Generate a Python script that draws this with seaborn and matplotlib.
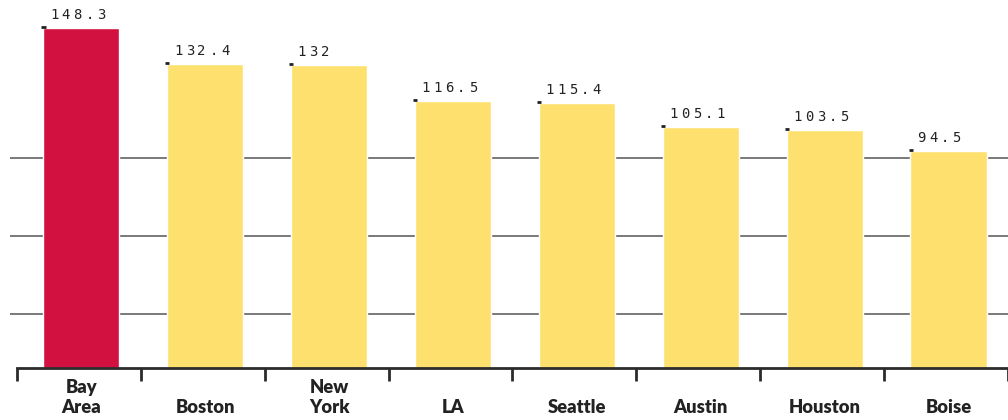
import matplotlib
matplotlib.use("Agg")
import matplotlib.pyplot as plt
import seaborn as sns
import pandas as pd

cities = ["Bay Area", "Boston", "New York", "LA", "Seattle", "Austin", "Houston", "Boise"]
tick_labels = ["Bay\nArea", "\nBoston", "New\nYork", "\nLA", "\nSeattle", "\nAustin", "\nHouston", "\nBoise"]
values = [148.3, 132.4, 132, 116.5, 115.4, 105.1, 103.5, 94.5]
value_labels = ["148.3", "132.4", "132", "116.5", "115.4", "105.1", "103.5", "94.5"]
gridlines = [23.4, 57.5, 91.6]

RED = "#D21141"
YELLOW = "#FEE06E"
colors = [RED] + [YELLOW] * (len(cities) - 1)

sns.set_style("white")
plt.rcParams["font.family"] = ["Lato", "DejaVu Sans"]

fig = plt.figure(figsize=(10.08, 4.2), dpi=100)
ax = fig.add_axes([10 / 1008, 52 / 420, 998 / 1008, 368 / 420])

df = pd.DataFrame({"city": cities, "value": values})
sns.barplot(data=df, x="city", y="value", hue="city", palette=colors,
            order=cities, hue_order=cities, legend=False, width=0.615,
            saturation=1, ax=ax, zorder=2)

for g in gridlines:
    ax.axhline(g, color="#555555", lw=1.1, zorder=1)

spacing = 124.43
off = 2.5 / spacing
ax.set_xlim(-0.5 - off - 7 / spacing, -0.5 - off + (1008 - 17) / spacing)
ax.set_ylim(0, 368 / 2.296)

for s in ["top", "right", "left"]:
    ax.spines[s].set_visible(False)
ax.spines["bottom"].set_bounds(-0.5 - off, 8)
ax.spines["bottom"].set_linewidth(2)
ax.spines["bottom"].set_color("#2b2b2b")
ax.spines["bottom"].set_zorder(3)

n = len(cities)
ax.set_xticks([i - 0.5 - off for i in range(n + 1)])
ax.set_xticklabels([])
ax.set_xticks(list(range(n)), minor=True)
ax.set_xticklabels(tick_labels, minor=True, fontsize=13.2, fontweight="heavy",
                   color="#222222", linespacing=1.2)
ax.tick_params(axis="x", which="major", direction="out", length=9, width=2,
               color="#2b2b2b", bottom=True)
ax.tick_params(axis="x", which="minor", length=0, pad=8)
ax.set_yticks([])
ax.set_xlabel("")
ax.set_ylabel("")

half = 0.615 / 2
for i, (v, lab) in enumerate(zip(values, value_labels)):
    ax.plot([i - half - 0.015, i - half + 0.018], [v + 0.4, v + 0.4],
            color="#222222", lw=2, solid_capstyle="butt", zorder=4)
    for k, ch in enumerate(lab):
        ax.annotate(ch, xy=(i - half, v), xytext=(4.8 + k * 8.5, 9.3),
                    textcoords="offset points", fontsize=10,
                    family="DejaVu Sans Mono", color="#222222",
                    ha="left", va="center")

fig.savefig("out.png", dpi=100)
